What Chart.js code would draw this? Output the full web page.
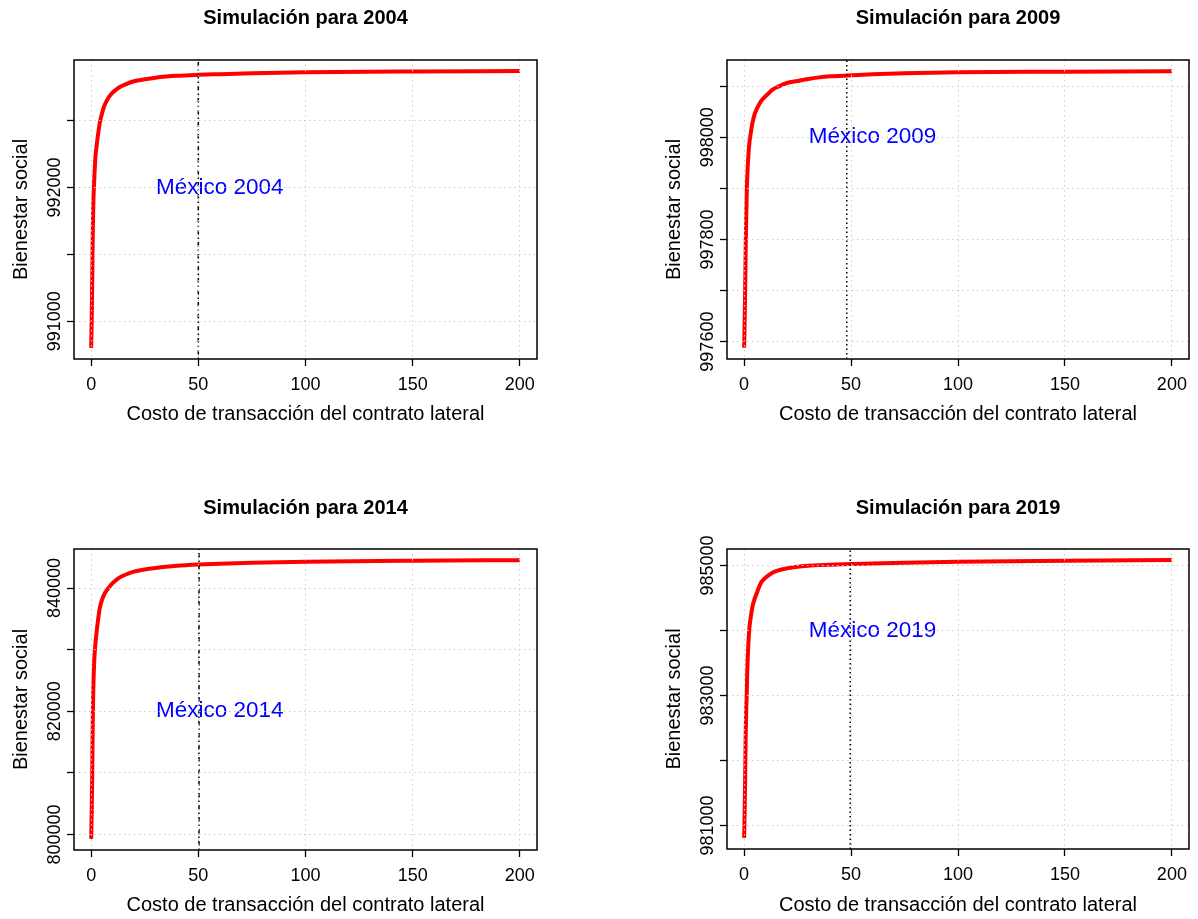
<!DOCTYPE html>
<html lang="es">
<head>
<meta charset="utf-8">
<title>Simulación del bienestar social</title>
<script src="https://cdn.jsdelivr.net/npm/chart.js@4.4.0/dist/chart.umd.min.js"></script>
<style>
  html, body { margin: 0; padding: 0; background: #fff; overflow: hidden; }
  #wrap { position: relative; width: 1198px; height: 919px; }
  canvas { position: absolute; }
</style>
</head>
<body>
<div id="wrap">
  <canvas id="c2004" width="599" height="459" style="left:0;top:0"></canvas>
  <canvas id="c2009" width="599" height="459" style="left:599px;top:0"></canvas>
  <canvas id="c2014" width="599" height="460" style="left:0;top:459px"></canvas>
  <canvas id="c2019" width="599" height="460" style="left:599px;top:459px"></canvas>
</div>
<script>
// datos
const anios = ['2004', '2009', '2014', '2019'];
const costo = [0, 0.1, 0.25, 0.5, 0.75, 1, 1.25, 1.5, 2, 2.5, 3, 4, 5, 6, 7, 8, 9, 10, 11.5, 13, 16, 20,
  25, 30, 35, 40, 50, 60, 75, 100, 150, 200];

const bienestar2004 = [990800, 990880, 991000, 991300, 991650, 991870, 991990, 992080, 992230, 992305, 992370,
  992480, 992550, 992605, 992640, 992670, 992692, 992710, 992730, 992748, 992772, 992795,
  992810, 992822, 992830, 992836, 992843, 992848, 992855, 992862, 992868, 992871];
const bienestar2009 = [997588, 997605, 997640, 997705, 997785, 997845, 997895, 997925, 997965, 997990, 998005,
  998030, 998046, 998056, 998064, 998071, 998076, 998080, 998086, 998092, 998099, 998106,
  998110, 998114, 998117, 998119, 998121, 998123, 998125, 998127, 998128, 998129];
const bienestar2014 = [799300, 800800, 803500, 809800, 818500, 823500, 826500, 828600, 831000, 832700, 834200,
  836700, 838000, 838900, 839500, 839950, 840400, 840800, 841250, 841650, 842150, 842650,
  843000, 843250, 843450, 843600, 843800, 843950, 844100, 844280, 844440, 844520];
const bienestar2019 = [980810, 980950, 981200, 981780, 982400, 982800, 983050, 983400, 983800, 984050, 984180,
  984380, 984495, 984580, 984670, 984740, 984780, 984810, 984850, 984885, 984925, 984955,
  984980, 984995, 985005, 985012, 985022, 985030, 985042, 985055, 985072, 985082];

const lineaV = [50, 48, 50.3, 49.6];
const estiloV = ['dotdash', 'dotted', 'dotdash', 'dotted'];

const xTicks = [0, 50, 100, 150, 200];
const xMin = -8, xMax = 208;
const yMin = [990717, 997566, 797491, 980639];
const yMax = [992954, 998151, 846329, 985253];
const yTicks = [
  [991000, 991500, 992000, 992500],
  [997600, 997700, 997800, 997900, 998000, 998100],
  [800000, 810000, 820000, 830000, 840000],
  [981000, 982000, 983000, 984000, 985000]
];
const yEtiquetas = [
  [991000, 992000],
  [997600, 997800, 998000],
  [800000, 820000, 840000],
  [981000, 983000, 985000]
];

const rotulos = ['México 2004', 'México 2009', 'México 2014', 'México 2019'];
const rotuloX = 60;
const rotuloY = [992000, 998000, 820000, 984000];

const series = [bienestar2004, bienestar2009, bienestar2014, bienestar2019];

// posicion de cada panel dentro de su canvas
const paneles = [
  { id: 'c2004', h: 459, left: 74, right: 537, bottom: 359, titulo: { top: 6, bottom: 30 }, yTit: 9, xTit: 33 },
  { id: 'c2009', h: 459, left: 128, right: 590, bottom: 359, titulo: { top: 6, bottom: 30 }, yTit: 63, xTit: 33 },
  { id: 'c2014', h: 460, left: 74, right: 537, bottom: 391, titulo: { top: 37, bottom: 29 }, yTit: 9, xTit: 2 },
  { id: 'c2019', h: 460, left: 128, right: 590, bottom: 390, titulo: { top: 37, bottom: 29 }, yTit: 63, xTit: 2 }
];

const FUENTE = '"Liberation Sans", Arial, Helvetica, sans-serif';
Chart.defaults.font.family = FUENTE;
Chart.defaults.color = '#000';

const marco = {
  id: 'marco',
  beforeDatasetsDraw(chart, args, opts) {
    const { ctx, scales: { x, y } } = chart;
    ctx.save();
    ctx.font = '22.5px ' + FUENTE;
    ctx.fillStyle = '#0000ff';
    ctx.textAlign = 'center';
    ctx.textBaseline = 'middle';
    ctx.fillText(opts.texto, x.getPixelForValue(opts.tx), y.getPixelForValue(opts.ty));
    ctx.restore();
  },
  afterDraw(chart, args, opts) {
    const { ctx, chartArea: a, scales: { y } } = chart;
    ctx.save();
    ctx.strokeStyle = '#000';
    ctx.lineWidth = 1.5;
    ctx.strokeRect(a.left, a.top, a.right - a.left, a.bottom - a.top);
    ctx.font = '18px ' + FUENTE;
    ctx.fillStyle = '#000';
    ctx.textAlign = 'center';
    ctx.textBaseline = 'middle';
    opts.etiquetas.forEach(v => {
      ctx.save();
      ctx.translate(a.left - 19, y.getPixelForValue(v));
      ctx.rotate(-Math.PI / 2);
      ctx.fillText(String(v), 0, 0);
      ctx.restore();
    });
    ctx.restore();
  }
};

function dibujarPanel(i) {
  const p = paneles[i];
  const curva = costo.map((c, k) => ({ x: c, y: series[i][k] }));
  const vertical = [{ x: lineaV[i], y: yMin[i] }, { x: lineaV[i], y: yMax[i] }];
  const dash = estiloV[i] === 'dotted' ? [1.5, 3] : [1.5, 3, 4.5, 3];

  new Chart(document.getElementById(p.id).getContext('2d'), {
    type: 'line',
    data: {
      datasets: [
        {
          data: vertical,
          borderColor: '#000',
          borderWidth: 1.5,
          borderDash: dash,
          pointRadius: 0,
          order: 0
        },
        {
          data: curva,
          borderColor: '#ff0000',
          borderWidth: 4,
          pointRadius: 0,
          cubicInterpolationMode: 'monotone',
          order: 1
        }
      ]
    },
    options: {
      responsive: false,
      animation: false,
      events: [],
      layout: { padding: { left: 0, top: 0, right: 599 - p.right, bottom: 0 } },
      plugins: {
        legend: { display: false },
        tooltip: { enabled: false },
        title: {
          display: true,
          text: 'Simulación para ' + anios[i],
          fullSize: false,
          color: '#000',
          font: { size: 20, weight: 'bold', lineHeight: 1.2 },
          padding: p.titulo
        },
        marco: { texto: rotulos[i], tx: rotuloX, ty: rotuloY[i], etiquetas: yEtiquetas[i] }
      },
      scales: {
        x: {
          type: 'linear',
          min: xMin,
          max: xMax,
          afterBuildTicks: s => { s.ticks = xTicks.map(v => ({ value: v })); },
          afterFit: s => { s.height = p.h - p.bottom; },
          ticks: { font: { size: 18 }, padding: 8, maxRotation: 0, color: '#000' },
          grid: { color: '#cccccc', lineWidth: 1, tickColor: '#000', tickLength: 7, tickWidth: 1.3, z: 1 },
          border: { display: false, dash: [1.5, 3.5] },
          title: {
            display: true,
            text: 'Costo de transacción del contrato lateral',
            font: { size: 20, lineHeight: 1.2 },
            padding: { top: 0, bottom: p.xTit },
            color: '#000'
          }
        },
        y: {
          type: 'linear',
          min: yMin[i],
          max: yMax[i],
          afterBuildTicks: s => { s.ticks = yTicks[i].map(v => ({ value: v })); },
          afterFit: s => { s.width = p.left; },
          ticks: { display: false },
          grid: { color: '#cccccc', lineWidth: 1, tickColor: '#000', tickLength: 7, tickWidth: 1.3, z: 1 },
          border: { display: false, dash: [1.5, 3.5] },
          title: {
            display: true,
            text: 'Bienestar social',
            font: { size: 20, lineHeight: 1.2 },
            padding: { top: p.yTit, bottom: 0 },
            color: '#000'
          }
        }
      }
    },
    plugins: [marco]
  });
}

anios.forEach((a, i) => dibujarPanel(i));
</script>
</body>
</html>
